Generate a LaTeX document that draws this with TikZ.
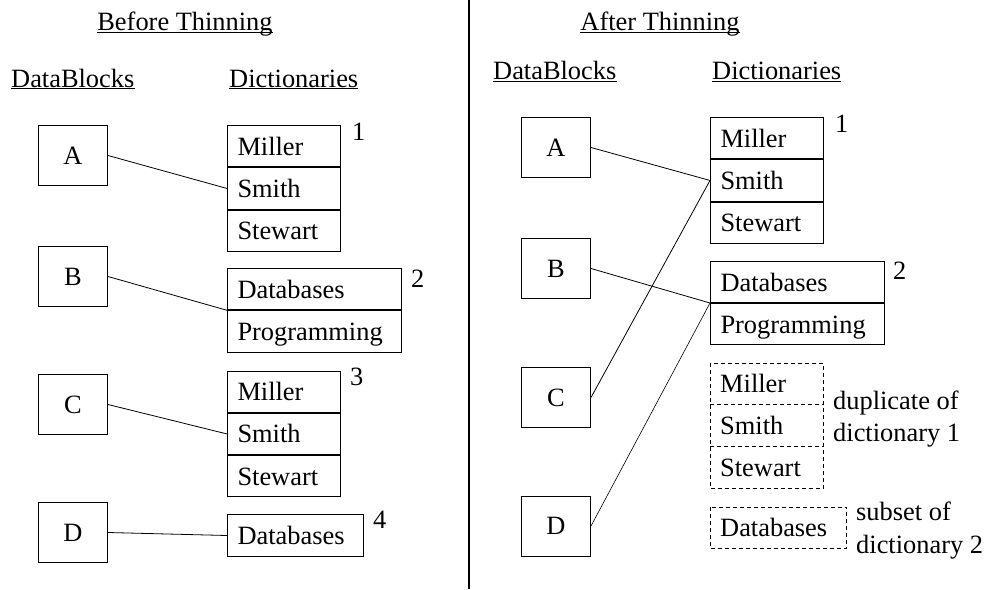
\documentclass[tikz,border=0pt]{standalone}
\usepackage{fontspec}
\setmainfont{Liberation Serif}
\begin{document}
\begin{tikzpicture}[x=1pt,y=-1pt,
  font=\fontsize{26.4}{32.6}\selectfont,
  every node/.style={inner sep=0pt},
  block/.style={draw, line width=1pt, anchor=north west, minimum width=69pt,
    minimum height=60pt, text height=17pt, text depth=0pt},
  cellbase/.style={anchor=north west, minimum height=41.3pt,
    inner xsep=10pt, inner ysep=0pt, text height=18pt, text depth=0pt,
    text width=#1, align=left},
  cell/.style={cellbase=#1, draw, line width=1pt},
  dashline/.style={line width=1pt, dash pattern=on 4pt off 3pt},
  heading/.style={anchor=base west},
  uline/.style={line width=0.9pt},
  num/.style={anchor=base west},
  link/.style={line width=0.8pt},
]
\useasboundingbox (0,0) rectangle (987,589);

% ---------- divider ----------
\coordinate (divtop) at (469,0);
\coordinate (divbot) at (469,589);
\draw[line width=1.2pt] (divtop) -- (divbot);

% ---------- left half ----------
\node[anchor=base] (lt) at (185,30.5) {Before Thinning};
\node[heading] (lh1) at (11,87) {DataBlocks};
\node[heading] (lh2) at (229,87) {Dictionaries};
\foreach \n in {lt,lh1,lh2}
  \draw[uline] ([yshift=-1.6pt]\n.base west) -- ([yshift=-1.6pt]\n.base east);

\node[block] (lA) at (38,125) {A};
\node[block] (lB) at (38,246) {B};
\node[block] (lC) at (38,374) {C};
\node[block] (lD) at (38,502) {D};

\node[cell=93pt] (l1a) at (227,125) {Miller};
\node[cell=93pt] (l1b) at (l1a.south west) {Smith};
\node[cell=93pt] (l1c) at (l1b.south west) {Stewart};
\node[num] (n1) at (352,140) {1};

\node[cell=154pt] (l2a) at (227,268) {Databases};
\node[cell=154pt] (l2b) at (l2a.south west) {Programming};
\node[num] (n2) at (411,287) {2};

\node[cell=93pt] (l3a) at (227,370.5) {Miller};
\node[cell=93pt] (l3b) at (l3a.south west) {Smith};
\node[cell=93pt] (l3c) at (l3b.south west) {Stewart};
\node[num] (n3) at (350,385.5) {3};

\node[cell=116pt, minimum height=42pt] (l4a) at (227,514) {Databases};
\node[num] (n4) at (373,528.5) {4};

\draw[link] (lA.east) -- (l1b.west);
\draw[link] (lB.east) -- (l2b.north west);
\draw[link] (lC.east) -- (l3b.west);
\draw[link] (lD.east) -- (l4a.west);

% ---------- right half ----------
\node[anchor=base] (rt) at (660,30.5) {After Thinning};
\node[heading] (rh1) at (493,79.5) {DataBlocks};
\node[heading] (rh2) at (712,79.5) {Dictionaries};
\foreach \n in {rt,rh1,rh2}
  \draw[uline] ([yshift=-1.6pt]\n.base west) -- ([yshift=-1.6pt]\n.base east);

\node[block] (rA) at (521,117) {A};
\node[block] (rB) at (521,238) {B};
\node[block] (rC) at (521,367) {C};
\node[block] (rD) at (521,495.5) {D};

\node[cell=93pt] (r1a) at (710,117) {Miller};
\node[cell=93pt] (r1b) at (r1a.south west) {Smith};
\node[cell=93pt] (r1c) at (r1b.south west) {Stewart};
\node[num] (m1) at (835,132) {1};

\node[cell=154pt, minimum height=41pt] (r2a) at (710,261) {Databases};
\node[cell=154pt, minimum height=41pt] (r2b) at (r2a.south west) {Programming};
\node[num] (m2) at (893,279.5) {2};

% duplicate dictionary, dashed
\node[cellbase=93pt] (r3a) at (710,363) {Miller};
\node[cellbase=93pt] (r3b) at (r3a.south west) {Smith};
\node[cellbase=93pt] (r3c) at (r3b.south west) {Stewart};
\draw[dashline] (r3a.north west) rectangle (r3c.south east);
\draw[dashline] (r3a.south west) -- (r3a.south east);
\draw[dashline] (r3b.south west) -- (r3b.south east);
\node[anchor=base west, align=left] (dup) at (833,441.7) {duplicate of\\dictionary 1};

% subset dictionary, dashed
\node[cellbase=116pt, minimum height=41pt] (r4a) at (710,507) {Databases};
\draw[dashline] (r4a.north west) rectangle (r4a.south east);
\node[anchor=base west, align=left] (sub) at (856,553.3) {subset of\\dictionary 2};

\draw[link] (rA.east) -- (r1b.west);
\draw[link] (rB.east) -- (r2b.north west);
\draw[link] (rC.east) -- (r1b.west);
\draw[link, line width=0.6pt] (rD.east) -- (r2b.north west);
\end{tikzpicture}
\end{document}
